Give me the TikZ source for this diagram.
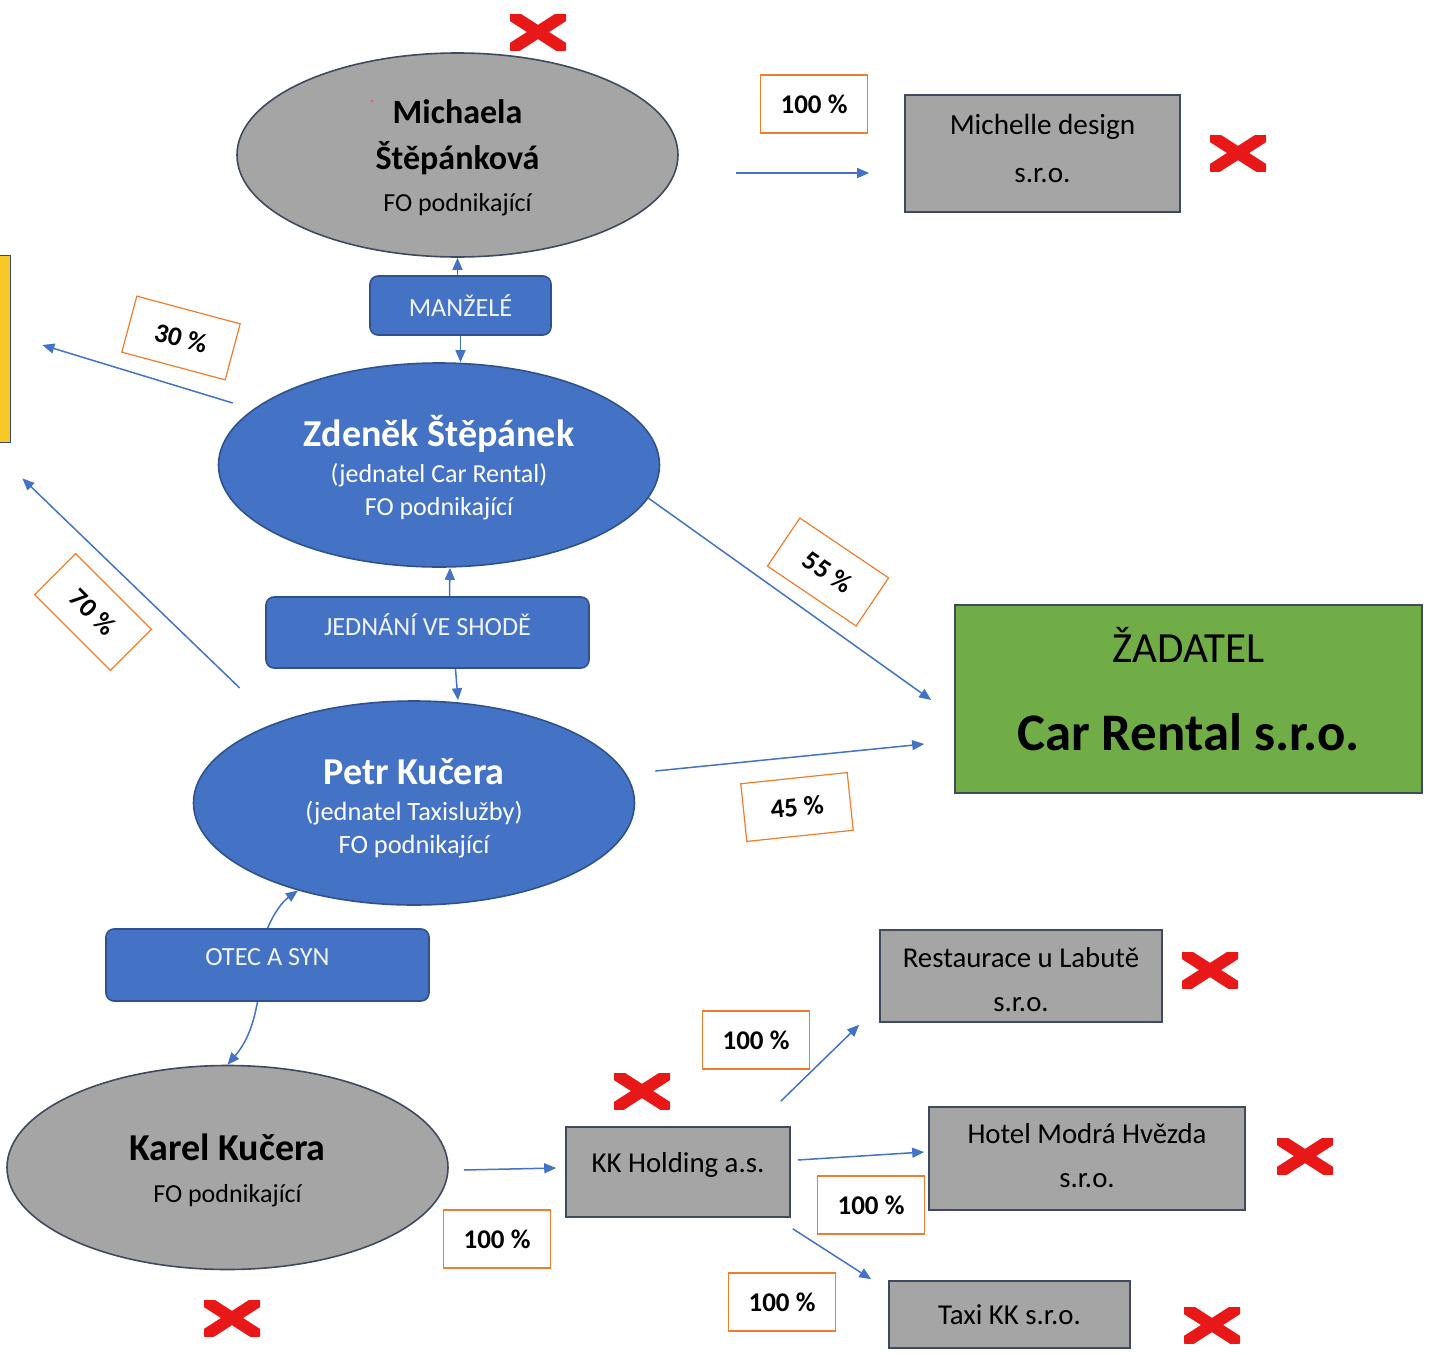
\documentclass[tikz,border=0pt]{standalone}
\usepackage{fontspec}
\setmainfont{Carlito}
\usepackage{tikz}
\usetikzlibrary{shapes.geometric,arrows.meta}
\pgfdeclarelayer{bg}
\pgfsetlayers{bg,main}

\definecolor{offblue}{HTML}{4472C4}
\definecolor{offblueline}{HTML}{2F528F}
\definecolor{firmgray}{HTML}{A5A5A5}
\definecolor{firmline}{HTML}{3F4A5C}
\definecolor{zadgreen}{HTML}{70AD47}
\definecolor{pctorange}{HTML}{ED7D31}
\definecolor{xred}{HTML}{E81818}
\definecolor{extyellow}{HTML}{F5C828}
\newcommand\fs[2]{\fontsize{#1}{#2}\selectfont}

\begin{document}
\begin{tikzpicture}[x=0.5pt, y=-0.5pt,
    person/.style={ellipse, draw=firmline, line width=0.8pt, fill=firmgray,
        minimum width=220.5pt, minimum height=102pt, inner sep=0pt},
    bluep/.style={person, draw=offblueline, fill=offblue},
    ptext/.style={align=center, inner sep=0pt},
    firm/.style={rectangle, draw=firmline, line width=0.8pt, fill=firmgray,
        inner sep=0pt, align=center, font=\fs{14.4}{22}},
    ftext/.style={align=center, inner sep=0pt, font=\fs{14.4}{22}},
    rel/.style={rectangle, rounded corners=4pt, draw=offblueline, line width=0.8pt,
        fill=offblue, text=white!92!offblue, inner sep=0pt, font=\fs{13.1}{15}},
    pct/.style={rectangle, draw=pctorange, line width=0.6pt, fill=white,
        minimum width=53.5pt, minimum height=29pt, inner sep=0pt, font=\bfseries\fs{13.5}{15}},
    xmark/.style={minimum width=28pt, minimum height=18pt, inner sep=0pt,
        path picture={\draw[xred, line width=6pt]
            (path picture bounding box.south west) -- (path picture bounding box.north east)
            (path picture bounding box.north west) -- (path picture bounding box.south east);}},
    arr/.style={draw=offblue, line width=0.75pt, -{Triangle[length=6pt,width=5pt]}}]

    \useasboundingbox (0,0) rectangle (1431,1355);

    \node (ext) [rectangle, draw=firmline, fill=extyellow, minimum width=30pt, minimum height=93.5pt] at (-20,348.5) {};

    \node (mich) [person, label={[ptext, yshift=-1.5pt, font=\fs{13}{22}]center:{\bfseries\fs{17}{22}Michaela}\\[1pt]{\bfseries\fs{17}{22}Štěpánková}\\[-1pt]FO podnikající}] at (457.5,155) {};
    \node (zdenek) [bluep, label={[ptext, yshift=-1.5pt, text=white, font=\fs{13}{16.5}]center:{\bfseries\fs{19}{16.5}Zdeněk Štěpánek}\\[1.5pt](jednatel Car Rental)\\FO podnikající}] at (439,465) {};
    \node (petr) [bluep, label={[ptext, yshift=-2.5pt, text=white, font=\fs{13.2}{16.5}]center:{\bfseries\fs{19}{16.5}Petr Kučera}\\[1.5pt](jednatel Taxislužby)\\FO podnikající}] at (414,803) {};
    \node (karel) [person, label={[ptext, yshift=-1.5pt, font=\fs{13}{21}]center:{\bfseries\fs{19}{21}Karel Kučera}\\FO podnikající}] at (227.5,1167.5) {};

    \node (manz) [rel, minimum width=90.5pt, minimum height=29.5pt] at (460.5,305.5) {MANŽELÉ};
    \node (shoda) [rel, minimum width=161.5pt, minimum height=35.5pt] at (427.5,632.5) {\raisebox{8pt}{JEDNÁNÍ VE SHODĚ}};
    \node (otec) [rel, minimum width=161.5pt, minimum height=36pt] at (267.5,965) {\raisebox{8pt}{OTEC A SYN}};

    \node (mdes) [firm, minimum width=137.5pt, minimum height=58.5pt,
        label={[ftext, yshift=2.5pt, font=\fs{14.6}{24}]center:Michelle design\\s.r.o.}] at (1042.5,153.5) {};
    \node (zad) [rectangle, draw=firmline, line width=0.8pt, fill=zadgreen, minimum width=233.5pt, minimum height=94pt,
        label={[name=zadtxt, yshift=5pt, align=center, font=\fs{21.5}{44}]center:ŽADATEL\\{\bfseries\fs{26.4}{44}Car Rental s.r.o.}}] at (1188.5,699) {};
    \node (rest) [firm, minimum width=141pt, minimum height=46pt,
        label={[ftext, yshift=-2pt]center:Restaurace u Labutě\\s.r.o.}] at (1021,976) {};
    \node (hotel) [firm, minimum width=158pt, minimum height=51.5pt,
        label={[ftext, yshift=1.5pt]center:Hotel Modrá Hvězda\\s.r.o.}] at (1087,1158.5) {};
    \node (taxi) [firm, minimum width=120.5pt, minimum height=33.5pt] at (1009.5,1314.5) {Taxi KK s.r.o.};
    \node (kk) [firm, minimum width=112pt, minimum height=45pt] at (678,1172) {\raisebox{10pt}{KK Holding a.s.}};

    \node (p1) [pct] at (814,104) {100 \%};
    \node (p2) [pct, rotate=-15] at (181,338) {30 \%};
    \node (p3) [pct, rotate=-45] at (93,612) {70 \%};
    \node (p4) [pct, rotate=-34] at (828,572) {55 \%};
    \node (p5) [pct, rotate=6] at (797,807) {45 \%};
    \node (p6) [pct] at (756,1040) {100 \%};
    \node (p7) [pct] at (871,1205) {100 \%};
    \node (p8) [pct] at (497,1239) {100 \%};
    \node (p9) [pct] at (782,1302) {100 \%};

    \node (x1) [xmark] at (538,32) {};
    \node (x2) [xmark] at (1238,153) {};
    \node (x3) [xmark] at (1210,970) {};
    \node (x4) [xmark] at (1305,1156) {};
    \node (x5) [xmark] at (1212,1325) {};
    \node (x6) [xmark] at (642,1091) {};
    \node (x7) [xmark] at (232,1318) {};

    \node (dot) [circle, fill=xred!70, minimum size=1.5pt, inner sep=0pt] at (372,101) {};

    \begin{pgfonlayer}{bg}
        \draw (manz.north -| mich.south) edge[arr] (mich.south);
        \draw (manz.south) edge[arr] (manz.south |- zdenek.north);
        \draw ([xshift=11pt]shoda.north) edge[arr] ([xshift=5.5pt]zdenek.south);
        \draw ([xshift=14pt]shoda.south) edge[arr] ([xshift=22pt]petr.north);
        \draw (otec.north) edge[arr, bend left=15] (petr.-143);
        \draw ([xshift=-5pt]otec.south) edge[arr, bend left=15] (karel.north);
        \draw ([xshift=28.5pt, yshift=-9pt]mich.east) edge[arr] ([xshift=-17.5pt, yshift=-9.75pt]mdes.west);
        \draw (zdenek.-9) edge[arr] ([xshift=-11.5pt, yshift=-0.5pt]zad.west);
        \draw ([xshift=10pt, yshift=16pt]petr.east) edge[arr] ([xshift=-15pt, yshift=-22.5pt]zad.west);
        \draw ([xshift=7.5pt, yshift=31pt]zdenek.west) edge[arr] ([xshift=16pt, yshift=1.75pt]ext.east);
        \draw ([xshift=23.5pt, yshift=57.5pt]petr.west) edge[arr] ([xshift=6pt, yshift=-18pt]ext.south east);
        \draw ([xshift=7.5pt, yshift=-1.25pt]karel.east) edge[arr] ([xshift=-4.5pt, yshift=2pt]kk.west);
        \draw ([xshift=-5pt, yshift=12.5pt]kk.north east) edge[arr] ([xshift=-10pt, yshift=-1pt]rest.south west);
        \draw ([xshift=3.5pt, yshift=6pt]kk.east) edge[arr] ([xshift=-2pt, yshift=3.25pt]hotel.west);
        \draw ([xshift=1pt, yshift=-5.5pt]kk.south east) edge[arr] ([xshift=-8.5pt, yshift=0.5pt]taxi.north west);
    \end{pgfonlayer}
\end{tikzpicture}
\end{document}
